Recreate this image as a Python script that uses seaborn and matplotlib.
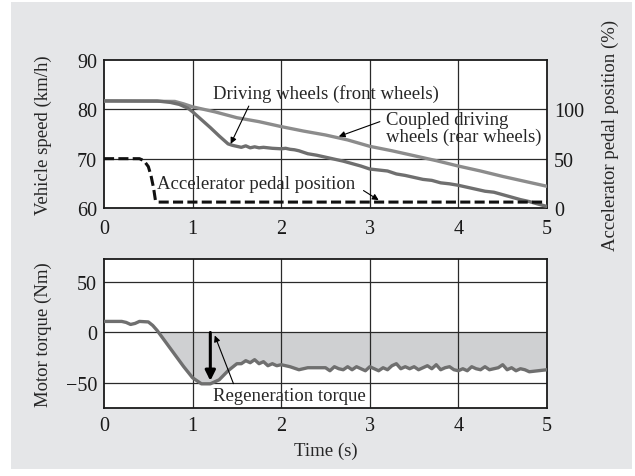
import numpy as np
import pandas as pd
import matplotlib
matplotlib.use("Agg")
import matplotlib.pyplot as plt
from matplotlib.patches import Rectangle
import seaborn as sns

# ---------------- data ----------------
t_front = [0, 0.6, 0.75, 0.85, 0.95, 1.0, 1.1, 1.2, 1.3, 1.4, 1.45, 1.5, 1.55, 1.6, 1.65,
           1.7, 1.75, 1.8, 1.9, 2.0, 2.05, 2.1, 2.15, 2.2, 2.3, 2.4, 2.5, 2.6, 2.7, 2.8,
           2.9, 3.0, 3.1, 3.2, 3.3, 3.4, 3.5, 3.6, 3.7, 3.8, 3.9, 4.0, 4.1, 4.2, 4.3,
           4.4, 4.5, 4.6, 4.7, 4.8, 4.9, 5.0]
v_front = [81.7, 81.7, 81.4, 81.0, 80.2, 79.5, 77.9, 76.3, 74.6, 73.0, 72.7, 72.5, 72.3,
           72.6, 72.2, 72.4, 72.2, 72.3, 72.1, 72.0, 72.1, 71.9, 71.8, 71.6, 71.0, 70.7,
           70.3, 69.9, 69.5, 69.0, 68.5, 67.9, 67.7, 67.5, 66.9, 66.6, 66.2, 65.8, 65.6,
           65.1, 64.9, 64.6, 64.2, 63.8, 63.4, 63.2, 62.7, 62.2, 61.7, 61.3, 60.8, 60.3]

t_rear = [0, 0.8, 0.9, 1.0, 1.25, 1.5, 1.75, 2.0, 2.25, 2.5, 2.75, 3.0, 3.25, 3.5, 3.75,
          4.0, 4.25, 4.5, 4.75, 5.0]
v_rear = [81.7, 81.6, 81.1, 80.5, 79.5, 78.3, 77.5, 76.5, 75.6, 74.8, 73.8, 72.5, 71.6,
          70.6, 69.6, 68.5, 67.5, 66.4, 65.4, 64.4]

t_pedal = [0, 0.4, 0.45, 0.5, 0.53, 0.56, 0.58, 0.6, 5.0]
pedal_pct = [50, 50, 48, 42, 33, 20, 8, 6, 6]

t_torque = [0, 0.2, 0.25, 0.3, 0.35, 0.4, 0.5, 0.55, 0.6, 0.7, 0.8, 0.9, 1.0, 1.1, 1.2,
            1.3, 1.4, 1.5, 1.55, 1.6, 1.65, 1.7, 1.75, 1.8, 1.85, 1.9, 1.95, 2.0, 2.05,
            2.1, 2.2, 2.3, 2.4, 2.5, 2.55, 2.6, 2.65, 2.7, 2.75, 2.8, 2.85, 2.9, 2.95,
            3.0, 3.05, 3.1, 3.15, 3.2, 3.25, 3.3, 3.35, 3.4, 3.45, 3.5, 3.55, 3.6, 3.65,
            3.7, 3.75, 3.8, 3.85, 3.9, 3.95, 4.0, 4.05, 4.1, 4.15, 4.2, 4.25, 4.3, 4.35,
            4.4, 4.45, 4.5, 4.55, 4.6, 4.65, 4.7, 4.75, 4.8, 4.9, 5.0]
torque = [11, 11, 10, 8, 9, 11, 10.5, 7, 2, -10, -22, -34, -45, -51, -51,
          -47, -38, -31, -31, -28, -30, -27, -31, -29, -33, -31, -33, -32, -33,
          -34, -37, -35, -35, -35, -38, -34, -36, -37, -34, -37, -34, -36, -38,
          -34, -36, -38, -35, -37, -33, -31, -36, -34, -36, -34, -37, -35, -33,
          -36, -32, -37, -35, -34, -37, -38, -36, -38, -34, -36, -37, -34, -37,
          -36, -35, -32, -37, -35, -38, -36, -37, -39, -38, -37]

# ---------------- style ----------------
sns.set_style("white")
plt.rcParams['font.family'] = ['Liberation Serif', 'DejaVu Serif']
FS_TICK = 14.5
FS_LAB = 13.5
FS_ANN = 13.5

fig = plt.figure(figsize=(6.35, 4.77), dpi=100)
fig.patch.set_facecolor("white")
fig.patches.append(Rectangle((11 / 635, 7 / 477), 621 / 635, 467 / 477,
                             transform=fig.transFigure, facecolor="#e5e6e8",
                             edgecolor="none", zorder=-10))

ax1 = fig.add_axes([104 / 635, (477 - 209) / 477, 443 / 635, 148 / 477])
ax2 = fig.add_axes([104 / 635, (477 - 409) / 477, 443 / 635, 149 / 477])

front_df = pd.DataFrame({"t": t_front, "v": v_front})
rear_df = pd.DataFrame({"t": t_rear, "v": v_rear})
pedal_df = pd.DataFrame({"t": t_pedal, "p": pedal_pct})
torque_df = pd.DataFrame({"t": t_torque, "T": torque})

grid_kw = dict(color="#2a2a2a", lw=0.9, zorder=1)

for ax in (ax1, ax2):
    ax.set_facecolor("white")
    for s in ax.spines.values():
        s.set_color("#1a1a1a")
        s.set_linewidth(1.3)
    ax.tick_params(length=0, labelsize=FS_TICK, colors="#1a1a1a")
    ax.tick_params(axis="y", pad=5)
    ax.set_xlim(0, 5)
    ax.set_xticks([0, 1, 2, 3, 4, 5])
ax1.tick_params(axis="x", pad=8)
ax2.tick_params(axis="x", pad=6)

for x in [1, 2, 3, 4]:
    ax1.axvline(x, **grid_kw)
    ax2.axvline(x, **grid_kw)
for y in [70, 80]:
    ax1.axhline(y, **grid_kw)
for y in [50, -50]:
    ax2.axhline(y, **grid_kw)

# ---- top panel ----
sns.lineplot(data=rear_df, x="t", y="v", ax=ax1, color="#8c8c8c", lw=2.4, zorder=3)
sns.lineplot(data=front_df, x="t", y="v", ax=ax1, color="#6f6f6f", lw=2.4, zorder=4)
ax1.set_ylim(60, 90)
ax1.set_yticks([60, 70, 80, 90])
ax1.set_xlabel("")
ax1.set_ylabel("Vehicle speed (km/h)", fontsize=FS_LAB)
ax1.yaxis.set_label_coords(-0.117, 0.5)

ax1b = ax1.twinx()
sns.lineplot(data=pedal_df, x="t", y="p", ax=ax1b, color="#111111", lw=2.2,
             linestyle=(0, (3.3, 1.4)), zorder=5)
ax1b.set_ylim(0, 150)
ax1b.set_yticks([0, 50, 100])
ax1b.tick_params(length=0, labelsize=FS_TICK, pad=5, colors="#1a1a1a")
ax1b.set_ylabel("Accelerator pedal position (%)", fontsize=FS_LAB)
ax1b.yaxis.set_label_coords(1.124, 0.5)
ax1b.set_xlabel("")
for s in ax1b.spines.values():
    s.set_visible(False)

ax1.annotate("Driving wheels (front wheels)", xy=(1.43, 73.0), xytext=(2.5, 83.4),
             fontsize=FS_ANN, ha="center", va="center", zorder=6,
             arrowprops=dict(arrowstyle="-|>", color="black", lw=0.8,
                             relpos=(0.17, 0.0), shrinkA=1, shrinkB=0, mutation_scale=9))
ax1.annotate("Coupled driving\nwheels (rear wheels)", xy=(2.65, 74.5), xytext=(3.18, 76.2),
             fontsize=FS_ANN, ha="left", va="center", linespacing=1.0, zorder=6,
             arrowprops=dict(arrowstyle="-|>", color="black", lw=0.8,
                             relpos=(0, 0.75), shrinkA=2, shrinkB=0, mutation_scale=9))
ax1.annotate("Accelerator pedal position", xy=(3.1, 61.6), xytext=(1.72, 64.9),
             fontsize=FS_ANN, ha="center", va="center", zorder=6,
             arrowprops=dict(arrowstyle="-|>", color="black", lw=0.8,
                             relpos=(1.0, 0.4), shrinkA=4, shrinkB=0, mutation_scale=9))

# ---- bottom panel ----
T = np.array(torque, dtype=float)
tt = np.array(t_torque, dtype=float)
ax2.fill_between(tt, T, 0, where=T <= 0, interpolate=True, color="#cfd0d2", lw=0, zorder=0.5)
ax2.axhline(0, **grid_kw)
sns.lineplot(data=torque_df, x="t", y="T", ax=ax2, color="#6f6f6f", lw=2.4, zorder=3)
ax2.set_ylim(-75, 73)
ax2.set_yticks([-50, 0, 50])
ax2.set_yticklabels(["\u221250", "0", "50"])
ax2.set_xlabel("Time (s)", fontsize=FS_LAB)
ax2.xaxis.set_label_coords(0.5, -0.225)
ax2.set_ylabel("Motor torque (Nm)", fontsize=FS_LAB)
ax2.yaxis.set_label_coords(-0.117, 0.5)

ax2.annotate("", xy=(1.2, -48), xytext=(1.2, 0),
             arrowprops=dict(arrowstyle="-|>", color="black", lw=2.2,
                             shrinkA=0, shrinkB=0, mutation_scale=15), zorder=6)
ax2.annotate("Regeneration torque", xy=(1.25, -3), xytext=(2.09, -62.5),
             fontsize=FS_ANN, ha="center", va="center", zorder=6,
             arrowprops=dict(arrowstyle="-|>", color="black", lw=0.8,
                             relpos=(0.15, 0.85), shrinkA=0, shrinkB=0, mutation_scale=9))

fig.savefig("out.png", dpi=100, facecolor=fig.get_facecolor())
